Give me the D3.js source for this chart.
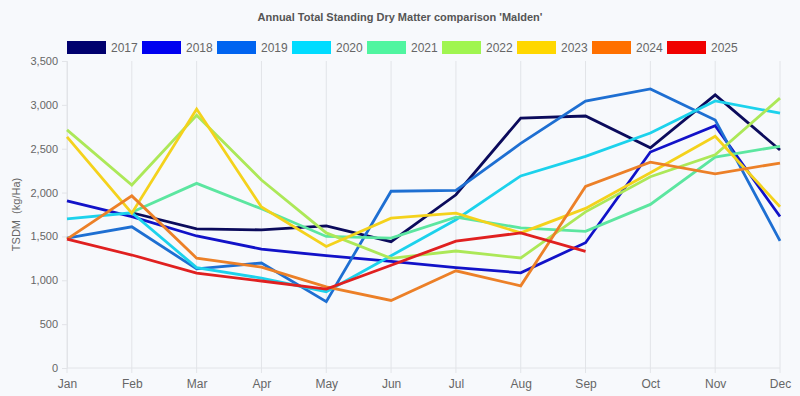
<!DOCTYPE html>
<html>
<head>
<meta charset="utf-8">
<script src="https://cdn.jsdelivr.net/npm/d3@7"></script>
<style>
  html, body { margin: 0; padding: 0; background: #f7f9fc; }
  svg { display: block; font-family: "Helvetica Neue", Helvetica, Arial, "Liberation Sans", sans-serif; }
</style>
</head>
<body>
<svg id="chart"></svg>
<script>
// Months along the x axis
const months = ["Jan", "Feb", "Mar", "Apr", "May", "Jun", "Jul", "Aug", "Sep", "Oct", "Nov", "Dec"];
const years = ["2017", "2018", "2019", "2020", "2021", "2022", "2023", "2024", "2025"];
const yTicks = [0, 500, 1000, 1500, 2000, 2500, 3000, 3500];

// TSDM (kg/Ha) per month
const tsdm2017 = [null, 1770, 1585, 1575, 1620, 1440, 1975, 2850, 2873, 2510, 3113, 2485];
const tsdm2018 = [1905, 1725, 1505, 1355, 1280, 1215, 1145, 1085, 1428, 2462, 2762, 1727];
const tsdm2019 = [1482, 1610, 1130, 1197, 756, 2015, 2025, 2560, 3042, 3181, 2828, 1450];
const tsdm2020 = [1700, 1770, 1145, 1025, 870, 1280, 1690, 2190, 2412, 2679, 3045, 2905];
const tsdm2021 = [null, 1775, 2105, 1815, 1500, 1480, 1720, 1598, 1558, 1865, 2405, 2528];
const tsdm2022 = [2715, 2086, 2882, 2143, 1540, 1250, 1334, 1254, 1780, 2180, 2430, 3077];
const tsdm2023 = [2636, 1765, 2953, 1836, 1385, 1708, 1765, 1540, 1820, 2225, 2642, 1838];
const tsdm2024 = [1470, 1962, 1252, 1150, 925, 770, 1108, 937, 2070, 2347, 2213, 2337];
const tsdm2025 = [1470, 1288, 1082, 992, 900, 1172, 1446, 1540, 1330, null, null, null];

const seriesValues = [tsdm2017, tsdm2018, tsdm2019, tsdm2020, tsdm2021, tsdm2022, tsdm2023, tsdm2024, tsdm2025];
const colors = ["#00006e", "#0000f0", "#0064f0", "#00dcff", "#50f5a0", "#a0f550", "#ffd700", "#ff7000", "#f00000"];
// the drawn lines look a little softer than the legend boxes
const lineColors = ["#0b0b5c", "#1212c8", "#1e6fd2", "#1cd2ec", "#5ce6a0", "#ace858", "#f4d21c", "#ec8028", "#e02020"];

const W = 800, H = 396;
const margin = { top: 61, right: 20, bottom: 28, left: 67 };
const width = W - margin.left - margin.right;
const height = H - margin.top - margin.bottom;

const svg = d3.select("#chart").attr("width", W).attr("height", H);

svg.append("rect").attr("width", W).attr("height", H).attr("fill", "#f7f9fc");

// Title
svg.append("text")
  .attr("x", W / 2)
  .attr("y", 21)
  .attr("text-anchor", "middle")
  .attr("font-size", "11px")
  .attr("font-weight", "bold")
  .attr("fill", "#555")
  .text("Annual Total Standing Dry Matter comparison 'Malden'");

// Legend
const legend = svg.append("g").attr("transform", "translate(67, 41)");
years.forEach((yr, i) => {
  const g = legend.append("g").attr("transform", `translate(${i * 75}, 0)`);
  g.append("rect")
    .attr("width", 39)
    .attr("height", 13)
    .attr("fill", colors[i]);
  g.append("text")
    .attr("x", 44)
    .attr("y", 11)
    .attr("font-size", "12px")
    .attr("fill", "#666")
    .text(yr);
});

const x = d3.scalePoint().domain(months).range([0, width]);
const y = d3.scaleLinear().domain([0, 3500]).range([height, 0]);

const plot = svg.append("g").attr("transform", `translate(${margin.left},${margin.top})`);

// Vertical grid lines (one per month)
plot.append("g")
  .selectAll("line")
  .data(months)
  .join("line")
  .attr("x1", (d) => x(d))
  .attr("x2", (d) => x(d))
  .attr("y1", 0)
  .attr("y2", height + 5)
  .attr("stroke", "#e2e4e8")
  .attr("stroke-width", 1);

// Bottom axis line
plot.append("line")
  .attr("x1", 0).attr("x2", width)
  .attr("y1", height).attr("y2", height)
  .attr("stroke", "#e2e4e8");

// Y axis
const yAxis = plot.append("g")
  .call(d3.axisLeft(y).tickValues(yTicks).tickFormat(d3.format(",")).tickSize(5).tickPadding(4));
yAxis.select(".domain").attr("stroke", "#e2e4e8");
yAxis.selectAll(".tick line").attr("stroke", "#e2e4e8");
yAxis.selectAll(".tick text")
  .attr("font-size", "11px")
  .attr("fill", "#666")
  .attr("font-family", "\"Helvetica Neue\", Helvetica, Arial, sans-serif");

// X axis labels
const xAxis = plot.append("g")
  .attr("transform", `translate(0,${height})`)
  .call(d3.axisBottom(x).tickSize(0).tickPadding(11));
xAxis.select(".domain").remove();
xAxis.selectAll(".tick text")
  .attr("font-size", "12px")
  .attr("fill", "#666")
  .attr("font-family", "\"Helvetica Neue\", Helvetica, Arial, sans-serif");

// Y axis title
svg.append("text")
  .attr("transform", `translate(20, ${margin.top + height / 2}) rotate(-90)`)
  .attr("text-anchor", "middle")
  .attr("font-size", "11px")
  .attr("fill", "#666")
  .attr("xml:space", "preserve")
  .text("TSDM  (kg/Ha)");

// Lines
const line = d3.line()
  .defined((d) => d != null)
  .x((d, i) => x(months[i]))
  .y((d) => y(d));

plot.append("g")
  .selectAll("path")
  .data(seriesValues)
  .join("path")
  .attr("d", (d) => line(d))
  .attr("fill", "none")
  .attr("stroke", (d, i) => lineColors[i])
  .attr("stroke-width", 2.8)
  .attr("stroke-linejoin", "miter");
</script>
</body>
</html>
